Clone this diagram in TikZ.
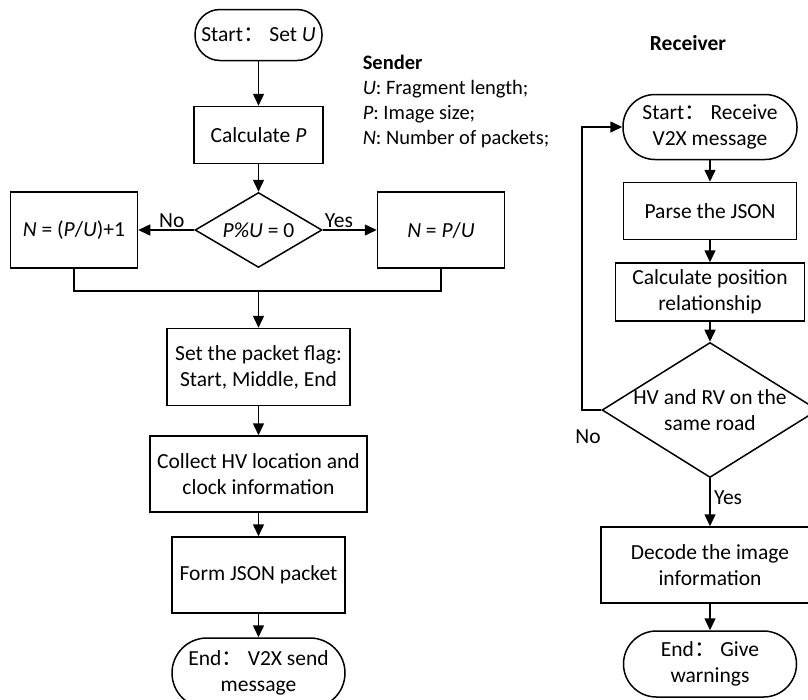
\documentclass[tikz,border=0pt]{standalone}
\usepackage{fontspec}
\setmainfont{Carlito}
\newfontfamily\cjk{Noto Sans CJK SC}
\usetikzlibrary{shapes.geometric,arrows.meta}

\newcommand{\fwcolon}{{\cjk ：}}

\begin{document}
\begin{tikzpicture}[x=1pt, y=-1pt, line width=1.5pt,
  font=\fontsize{21.5}{26}\selectfont,
  proc/.style={draw, align=center, inner sep=0pt},
  term/.style={draw, align=center, inner sep=0pt, rounded corners=#1},
  term/.default=25pt,
  decision/.style={draw, diamond, inner sep=0pt, aspect=1.6},
  flow/.style={-{Triangle[length=12pt, width=11pt]}}]

\useasboundingbox (0,0) rectangle (808,699);
\clip (0,0) rectangle (808,699);

\node[term=25pt, minimum width=127pt, minimum height=51pt] (start) at (258.5,35) {Start\fwcolon\ Set \textit{U}};
\node[proc, minimum width=129pt, minimum height=57pt] (calc) at (258.5,135) {Calculate \textit{P}};
\node[decision, minimum width=127pt, minimum height=75pt] (div) at (258.5,230) {\textit{P\%U} = 0};
\node[proc, minimum width=127pt, minimum height=76pt] (nplus) at (74,230) {\textit{N} = (\textit{P}/\textit{U})+1};
\node[proc, minimum width=127pt, minimum height=76pt] (nexact) at (441,230) {\textit{N} = \textit{P}/\textit{U}};
\coordinate (join) at (258.5,291);
\node[proc, minimum width=183pt, minimum height=77pt] (flag) at (258.5,367) {Set the packet flag:\\Start, Middle, End};
\node[proc, minimum width=217pt, minimum height=76pt] (collect) at (258.5,474) {Collect HV location and\\clock information};
\node[proc, minimum width=173pt, minimum height=76pt] (form) at (258.5,575) {Form JSON packet};
\node[term=35pt, minimum width=173pt, minimum height=70pt] (sendend) at (258.5,673) {End\fwcolon\ V2X send\\message};

\node[align=left, anchor=north west, inner sep=0pt, font=\fontsize{20.5}{25}\selectfont] (legend) at (362,54)
  {\textbf{Sender}\\\textit{U}: Fragment length;\\\textit{P}: Image size;\\\textit{N}: Number of packets;};

\node (rtitle) at (688,43) {\textbf{Receiver}};
\node[term=32pt, minimum width=174pt, minimum height=65pt] (recv) at (710,127) {Start\fwcolon\ Receive\\V2X message};
\node[proc, minimum width=173pt, minimum height=57pt] (parse) at (710,211) {Parse the JSON};
\node[proc, minimum width=189pt, minimum height=58pt] (relation) at (710,292) {Calculate position\\relationship};
\node[decision, minimum width=216pt, minimum height=135pt,
  label={[align=center]center:HV and RV on the\\same road}] (road) at (710,410) {};
\node[proc, minimum width=218pt, minimum height=76pt] (decode) at (710,565) {Decode the image\\information};
\node[term=33pt, minimum width=173pt, minimum height=66pt] (recvend) at (710,664) {End\fwcolon\ Give\\warnings};
\coordinate (back) at (582,410);
\node (nolbl) at (588,437) {No};

\draw[flow] (start) -- (calc);
\draw[flow] (calc) -- (div);
\draw[flow] (div) -- node[above, inner sep=2pt, pos=0.4] {No} (nplus);
\draw[flow] (div) -- node[above, inner sep=2pt, pos=0.3] {Yes} (nexact);
\draw (nplus.south) |- (join) -| (nexact.south);
\draw[flow] (join) -- (flag);
\draw[flow] (flag) -- (collect);
\draw[flow] (collect) -- (form);
\draw[flow] (form) -- (sendend);

\draw[flow] (recv) -- (parse);
\draw[flow] (parse) -- (relation);
\draw[flow] (relation) -- (road);
\draw[flow] (road) -- node[right, pos=0.4] {Yes} (decode);
\draw[flow] (decode) -- (recvend);
\draw[flow] (road.west) -- (back) |- (recv.west);

\end{tikzpicture}
\end{document}
